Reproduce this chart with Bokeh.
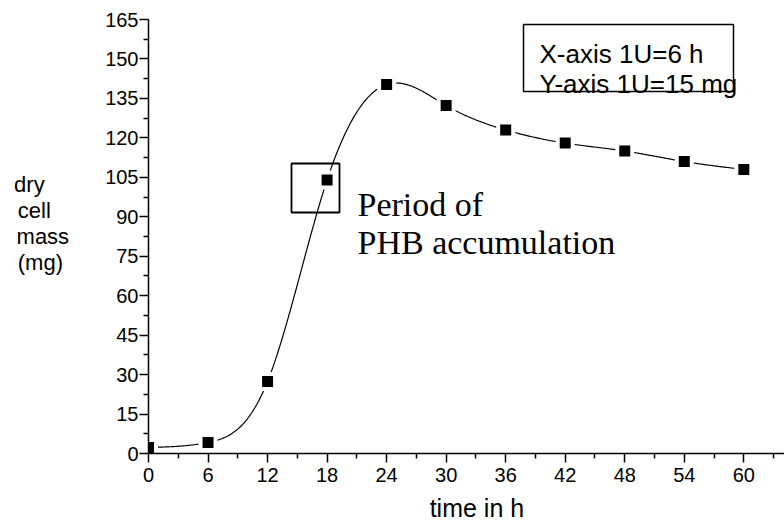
import numpy as np
from bokeh.plotting import figure
from bokeh.models import Range1d, FixedTicker, Label, BoxAnnotation, ColumnDataSource
from bokeh.embed import file_html
from bokeh.resources import INLINE

# ---- data ----
time_h = [0, 6, 12, 18, 24, 30, 36, 42, 48, 54, 60]
dry_mass_mg = [2.3, 4.2, 27.4, 104, 140.3, 132.3, 123, 118, 115, 111, 108]
x_ticks = [0, 6, 12, 18, 24, 30, 36, 42, 48, 54, 60]
x_minor = [3, 9, 15, 21, 27, 33, 39, 45, 51, 57, 63]
y_ticks = [0, 15, 30, 45, 60, 75, 90, 105, 120, 135, 150, 165]
y_minor = [7.5, 22.5, 37.5, 52.5, 67.5, 82.5, 97.5, 112.5, 127.5, 142.5, 157.5]
y_label_lines = ["dry", "cell", "mass", " (mg)"]
x_label = "time in h"
note_lines = ["X-axis 1U=6 h", "Y-axis 1U=15 mg"]
period_lines = ["Period of", "PHB accumulation"]


def natural_spline(xs, ys, n_per=60):
    xs = np.asarray(xs, float)
    ys = np.asarray(ys, float)
    n = len(xs)
    h = np.diff(xs)
    A = np.zeros((n - 2, n - 2))
    r = np.zeros(n - 2)
    for i in range(1, n - 1):
        A[i - 1, i - 1] = 2 * (h[i - 1] + h[i])
        if i - 2 >= 0:
            A[i - 1, i - 2] = h[i - 1]
        if i < n - 2:
            A[i - 1, i] = h[i]
        r[i - 1] = 6 * ((ys[i + 1] - ys[i]) / h[i] - (ys[i] - ys[i - 1]) / h[i - 1])
    M = np.zeros(n)
    M[1:-1] = np.linalg.solve(A, r)
    ox, oy = [], []
    for i in range(n - 1):
        t = np.linspace(xs[i], xs[i + 1], n_per)
        hi = h[i]
        s = (M[i] * (xs[i + 1] - t) ** 3 / (6 * hi) + M[i + 1] * (t - xs[i]) ** 3 / (6 * hi)
             + (ys[i] / hi - M[i] * hi / 6) * (xs[i + 1] - t)
             + (ys[i + 1] / hi - M[i + 1] * hi / 6) * (t - xs[i]))
        ox.extend(t.tolist())
        oy.extend(s.tolist())
    return ox, oy


W, H = 784, 527
p = figure(width=W, height=H, output_backend="svg", toolbar_location=None,
           x_range=Range1d(0, 64.1), y_range=Range1d(0, 165),
           min_border_left=148, min_border_right=0, min_border_top=19, min_border_bottom=74)
p.outline_line_color = None
p.grid.visible = False
p.background_fill_color = "white"

# pixel helpers for annotation placement (frame geometry)
fx0, fy0 = 148.0, 453.0
sx = (W - 148.0) / 64.1
sy = 434.0 / 165.0


def dx(px):
    return (px - fx0) / sx


def dy(py):
    return (fy0 - py) / sy


p.axis.axis_line_width = 1.5
p.axis.axis_line_color = "black"
p.axis.major_tick_line_width = 1.5
p.axis.minor_tick_line_width = 1.5
p.axis.major_tick_line_color = "black"
p.axis.minor_tick_line_color = "black"
p.axis.major_tick_in = 0
p.axis.major_tick_out = 9
p.axis.minor_tick_in = 0
p.axis.minor_tick_out = 5
p.axis.major_label_text_font = "Liberation Sans"
p.axis.major_label_text_font_size = "20px"
p.axis.major_label_text_color = "black"

p.xaxis.ticker = FixedTicker(ticks=x_ticks, minor_ticks=x_minor)
p.yaxis.ticker = FixedTicker(ticks=y_ticks, minor_ticks=y_minor)
p.xaxis.major_label_standoff = 5
p.yaxis.major_label_standoff = 1

NB = "\u00a0"

# x title (leading no-break spaces nudge it right of the frame centre, as in the source)
p.xaxis.axis_label = NB * 3 + x_label
p.xaxis.axis_label_text_font = "Liberation Sans"
p.xaxis.axis_label_text_font_size = "25px"
p.xaxis.axis_label_text_font_style = "normal"
p.xaxis.axis_label_text_color = "black"
p.xaxis.axis_label_standoff = 9

# y title: lines left-aligned (pad with no-break spaces, label is right-anchored)
pads = [4, 3, 0, 0]
y_text = "\n".join(line + NB * n for line, n in zip(y_label_lines, pads)) + "\n" + NB
p.yaxis.axis_label = y_text
p.yaxis.axis_label_text_font = "Liberation Sans"
p.yaxis.axis_label_text_font_size = "22px"
p.yaxis.axis_label_text_font_style = "normal"
p.yaxis.axis_label_text_color = "black"
p.yaxis.axis_label_text_line_height = 1.05
p.yaxis.axis_label_standoff = 33
yax = p.yaxis[0]
if hasattr(yax, "axis_label_orientation"):
    yax.axis_label_orientation = "horizontal"

# smooth curve through data
cx, cy = natural_spline(time_h, dry_mass_mg)
p.line(cx, cy, line_color="black", line_width=1.2)

src = ColumnDataSource(dict(x=time_h, y=dry_mass_mg))
p.scatter("x", "y", source=src, marker="square", size=19, fill_color="white", line_color=None)
p.scatter("x", "y", source=src, marker="square", size=11, fill_color="black", line_color=None)

# note box
p.add_layout(BoxAnnotation(left=dx(523), right=dx(733), top=dy(24), bottom=dy(91),
                           fill_alpha=0, line_color="black", line_alpha=1, line_width=1.5))
for line, b in zip(note_lines, [53, 83]):
    p.add_layout(Label(x=dx(539), y=dy(b), text=line, text_font="Liberation Sans",
                       text_font_size="26px", text_baseline="alphabetic", text_align="left",
                       text_color="black"))

# period box
p.add_layout(BoxAnnotation(left=dx(291), right=dx(339), top=dy(163), bottom=dy(212),
                           fill_alpha=0, line_color="black", line_alpha=1, line_width=1.8))
for line, b in zip(period_lines, [204, 242]):
    p.add_layout(Label(x=dx(357), y=dy(b), text=line, text_font="Liberation Serif",
                       text_font_size="34px", text_baseline="alphabetic", text_align="left",
                       text_color="black"))

open("out.html", "w").write(file_html(p, INLINE))
